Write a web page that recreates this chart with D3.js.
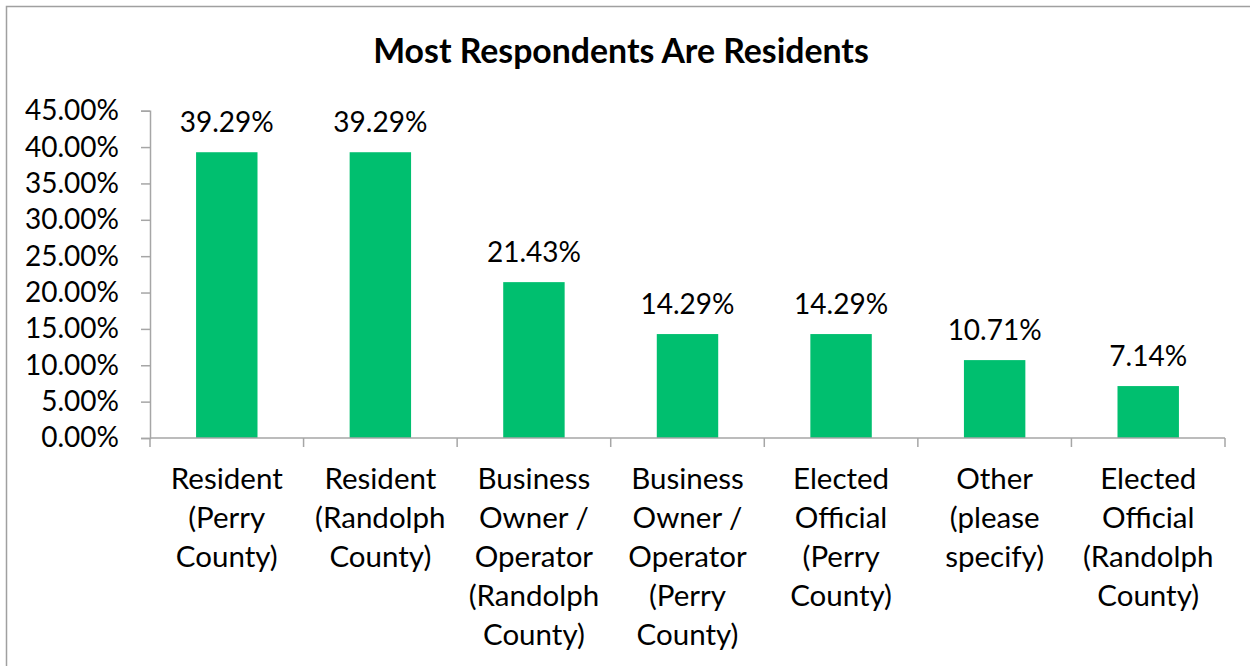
<!DOCTYPE html>
<html>
<head>
<meta charset="utf-8">
<script src="https://cdn.jsdelivr.net/npm/d3@7"></script>
<style>
  html, body { margin: 0; padding: 0; background: #fff; }
  svg { display: block; }
  text { font-family: Lato, "Open Sans", sans-serif; fill: #000; }
</style>
</head>
<body>
<svg id="chart" width="1250" height="666"></svg>
<script>
// Respondent roles (each category label is split into its wrapped lines)
const categories = [
  ["Resident", "(Perry", "County)"],
  ["Resident", "(Randolph", "County)"],
  ["Business", "Owner /", "Operator", "(Randolph", "County)"],
  ["Business", "Owner /", "Operator", "(Perry", "County)"],
  ["Elected", "Official", "(Perry", "County)"],
  ["Other", "(please", "specify)"],
  ["Elected", "Official", "(Randolph", "County)"]
];
// Share of respondents per role, in percent
const values = [39.29, 39.29, 21.43, 14.29, 14.29, 10.71, 7.14];
// Y-axis tick values, in percent
const yTicks = [0, 5, 10, 15, 20, 25, 30, 35, 40, 45];
const title = "Most Respondents Are Residents";

const svg = d3.select("#chart");
const W = 1250, H = 666;
const margin = { left: 150, right: 25, top: 110.7, bottom: 228 };
const plotBottom = H - margin.bottom; // 438

// chart frame
svg.append("rect")
  .attr("x", 6.5).attr("y", 6.5)
  .attr("width", W + 10).attr("height", H + 10)
  .attr("fill", "none").attr("stroke", "#a0a0a0").attr("stroke-width", 1.5);

// title
svg.append("text")
  .attr("x", 621).attr("y", 63)
  .attr("text-anchor", "middle")
  .attr("font-weight", "bold")
  .attr("font-size", 33.8)
  .text(title);

const x = d3.scaleBand()
  .domain(d3.range(categories.length))
  .range([margin.left, W - margin.right])
  .paddingInner(0.6).paddingOuter(0.3);

const y = d3.scaleLinear()
  .domain([0, 45])
  .range([plotBottom, margin.top]);

const axisColor = "#a6a6a6";

// y axis
const yAxis = d3.axisLeft(y)
  .tickValues(yTicks)
  .tickSize(9)
  .tickPadding(22)
  .tickFormat(d => d.toFixed(2) + "%");
const gy = svg.append("g")
  .attr("transform", `translate(${margin.left},0)`)
  .call(yAxis);
gy.select(".domain").attr("stroke", axisColor).attr("stroke-width", 1.5);
gy.selectAll(".tick line").attr("stroke", axisColor).attr("stroke-width", 1.5);
gy.selectAll(".tick text")
  .attr("font-size", 28)
  .attr("fill", "#000")
  .attr("font-family", "Lato, 'Open Sans', sans-serif");

// bars
svg.append("g").selectAll("rect")
  .data(values)
  .join("rect")
  .attr("x", (d, i) => x(i))
  .attr("width", x.bandwidth())
  .attr("y", d => y(d))
  .attr("height", d => plotBottom - y(d))
  .attr("fill", "#00bf6f");

// value labels
svg.append("g").selectAll("text")
  .data(values)
  .join("text")
  .attr("x", (d, i) => x(i) + x.bandwidth() / 2)
  .attr("y", d => y(d) - 20)
  .attr("text-anchor", "middle")
  .attr("font-size", 28)
  .text(d => d.toFixed(2) + "%");

// x axis with category boundary ticks
const boundaries = d3.range(categories.length + 1).map(i => margin.left + i * (W - margin.left - margin.right) / categories.length);
svg.append("line")
  .attr("x1", margin.left).attr("x2", W - margin.right)
  .attr("y1", plotBottom).attr("y2", plotBottom)
  .attr("stroke", axisColor).attr("stroke-width", 1.5);
svg.append("g").selectAll("line")
  .data(boundaries)
  .join("line")
  .attr("x1", d => d).attr("x2", d => d)
  .attr("y1", plotBottom).attr("y2", plotBottom + 9)
  .attr("stroke", axisColor).attr("stroke-width", 1.5);

// category labels
const catG = svg.append("g").selectAll("text")
  .data(categories)
  .join("text")
  .attr("text-anchor", "middle")
  .attr("font-size", 29.5);
catG.selectAll("tspan")
  .data((d, i) => d.map(line => ({ line, i })))
  .join("tspan")
  .attr("x", d => x(d.i) + x.bandwidth() / 2)
  .attr("y", (d, j) => 489 + j * 39)
  .text(d => d.line);
</script>
</body>
</html>
